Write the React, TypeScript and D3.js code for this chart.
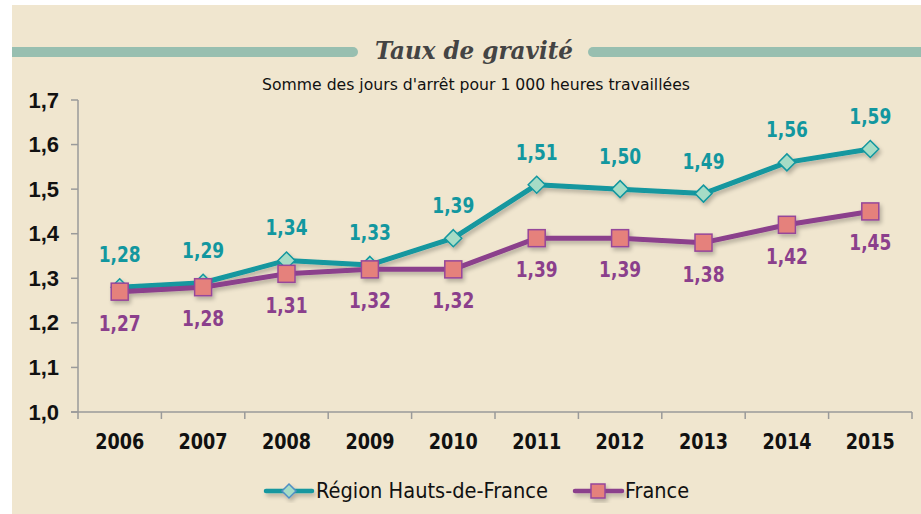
import React from "react";
import * as d3 from "d3";

const years = ["2006", "2007", "2008", "2009", "2010", "2011", "2012", "2013", "2014", "2015"];
const regionValues = [1.28, 1.29, 1.34, 1.33, 1.39, 1.51, 1.5, 1.49, 1.56, 1.59];
const franceValues = [1.27, 1.28, 1.31, 1.32, 1.32, 1.39, 1.39, 1.38, 1.42, 1.45];
const yTicks = [1.0, 1.1, 1.2, 1.3, 1.4, 1.5, 1.6, 1.7];
const seriesNames = ["Région Hauts-de-France", "France"];

const W = 921;
const H = 514;
const TEAL = "#12979f";
const PURPLE = "#8b3f8c";
const BG = "#f0e6cf";
const BAR = "#98bfb0";
const NARROW = "'DejaVu Sans Condensed', 'Open Sans', sans-serif";

const fmt = (v: number) => v.toFixed(2).replace(".", ",");

export default function App() {
  const x = d3.scaleBand<string>().domain(years).range([78, 912]);
  const y = d3.scaleLinear().domain([1.0, 1.7]).range([412, 100]);
  const cx = (d: string) => (x(d) as number) + x.bandwidth() / 2;

  const line = d3
    .line<number>()
    .x((_, i) => cx(years[i]))
    .y((v) => y(v));

  const diamond = (px: number, py: number, r: number) =>
    `M${px},${py - r}L${px + r},${py}L${px},${py + r}L${px - r},${py}Z`;

  return (
    <svg
      width={W}
      height={H}
      style={{ position: "absolute", left: 0, top: 0, display: "block" }}
    >
      <defs>
        <filter id="sh" x="-10%" y="-30%" width="120%" height="160%">
          <feGaussianBlur in="SourceAlpha" stdDeviation="2" />
          <feOffset dx="2" dy="3" result="b" />
          <feComponentTransfer>
            <feFuncA type="linear" slope="0.25" />
          </feComponentTransfer>
          <feMerge>
            <feMergeNode />
            <feMergeNode in="SourceGraphic" />
          </feMerge>
        </filter>
      </defs>
      <rect x={0} y={0} width={W} height={H} fill="#ffffff" />
      <rect x={12} y={5} width={W - 12} height={H - 5} fill={BG} />

      {/* title bars */}
      <path d={`M12,47H353A5,5 0 0 1 353,57H12Z`} fill={BAR} />
      <path d={`M593,47H921V57H593A5,5 0 0 1 593,47Z`} fill={BAR} />
      <text
        x={474}
        y={59}
        textAnchor="middle"
        fontFamily="'DejaVu Serif', serif"
        fontStyle="italic"
        fontWeight="bold"
        fontSize={24}
        fill="#444444"
        textLength={198}
        lengthAdjust="spacingAndGlyphs"
      >
        Taux de gravité
      </text>
      <text
        x={476}
        y={90}
        textAnchor="middle"
        fontFamily={NARROW}
        fontSize={16.5}
        fill="#111111"
        textLength={428}
        lengthAdjust="spacingAndGlyphs"
      >
        Somme des jours d'arrêt pour 1 000 heures travaillées
      </text>

      {/* axes */}
      <g stroke="#9a9a9a" strokeWidth={1.5} fill="none">
        <line x1={78} y1={100} x2={78} y2={412} />
        <line x1={71} y1={412} x2={912} y2={412} />
        {yTicks.map((t) => (
          <line key={t} x1={71} x2={78} y1={y(t)} y2={y(t)} />
        ))}
        {years.map((yr) => (
          <line key={yr} x1={x(yr)} x2={x(yr)} y1={412} y2={419} />
        ))}
        <line x1={912} x2={912} y1={412} y2={419} />
      </g>
      {yTicks.map((t) => (
        <text
          key={t}
          x={59}
          y={y(t) + 7.5}
          textAnchor="end"
          fontFamily="'Liberation Sans', Arial, sans-serif"
          fontWeight="bold"
          fontSize={22}
          fill="#111"
        >
          {t.toFixed(1).replace(".", ",")}
        </text>
      ))}
      {years.map((yr) => (
        <text
          key={yr}
          x={cx(yr)}
          y={449}
          textAnchor="middle"
          fontFamily={NARROW}
          fontWeight="bold"
          fontSize={21}
          fill="#111"
          textLength={49}
          lengthAdjust="spacingAndGlyphs"
        >
          {yr}
        </text>
      ))}

      {/* series */}
      <g filter="url(#sh)">
        <path d={line(regionValues) || ""} fill="none" stroke={TEAL} strokeWidth={5} strokeLinejoin="round" />
        {regionValues.map((v, i) => (
          <path key={i} d={diamond(cx(years[i]), y(v), 8.5)} fill="#a6dcc6" stroke={TEAL} strokeWidth={1.5} />
        ))}
        <path d={line(franceValues) || ""} fill="none" stroke={PURPLE} strokeWidth={5} strokeLinejoin="round" />
        {franceValues.map((v, i) => (
          <rect
            key={i}
            x={cx(years[i]) - 8.5}
            y={y(v) - 8.5}
            width={17}
            height={17}
            fill="#e5817c"
            stroke="#96469a"
            strokeWidth={1.5}
          />
        ))}
      </g>

      {regionValues.map((v, i) => (
        <text
          key={"r" + i}
          x={cx(years[i])}
          y={y(v) - 25}
          textAnchor="middle"
          fontFamily={NARROW}
          fontWeight="bold"
          fontSize={21}
          fill={TEAL}
          textLength={42}
          lengthAdjust="spacingAndGlyphs"
        >
          {fmt(v)}
        </text>
      ))}
      {franceValues.map((v, i) => (
        <text
          key={"f" + i}
          x={cx(years[i])}
          y={y(v) + 39}
          textAnchor="middle"
          fontFamily={NARROW}
          fontWeight="bold"
          fontSize={21}
          fill={PURPLE}
          textLength={42}
          lengthAdjust="spacingAndGlyphs"
        >
          {fmt(v)}
        </text>
      ))}

      {/* legend */}
      <g filter="url(#sh)">
        <line x1={266} x2={312} y1={491} y2={491} stroke={TEAL} strokeWidth={4.5} strokeLinecap="round" />
        <path d={diamond(289, 491, 7)} fill="#a6dcc6" stroke="#4f8fc4" strokeWidth={1.5} />
        <line x1={575} x2={622} y1={491} y2={491} stroke={PURPLE} strokeWidth={4.5} strokeLinecap="round" />
        <rect x={591} y={484} width={14} height={14} fill="#e5817c" stroke="#96469a" strokeWidth={1.5} />
      </g>
      <text
        x={316}
        y={498}
        fontFamily={NARROW}
        fontSize={21}
        fill="#111"
        textLength={232}
        lengthAdjust="spacingAndGlyphs"
      >
        {seriesNames[0]}
      </text>
      <text
        x={625}
        y={498}
        fontFamily={NARROW}
        fontSize={21}
        fill="#111"
        textLength={64}
        lengthAdjust="spacingAndGlyphs"
      >
        {seriesNames[1]}
      </text>
    </svg>
  );
}
